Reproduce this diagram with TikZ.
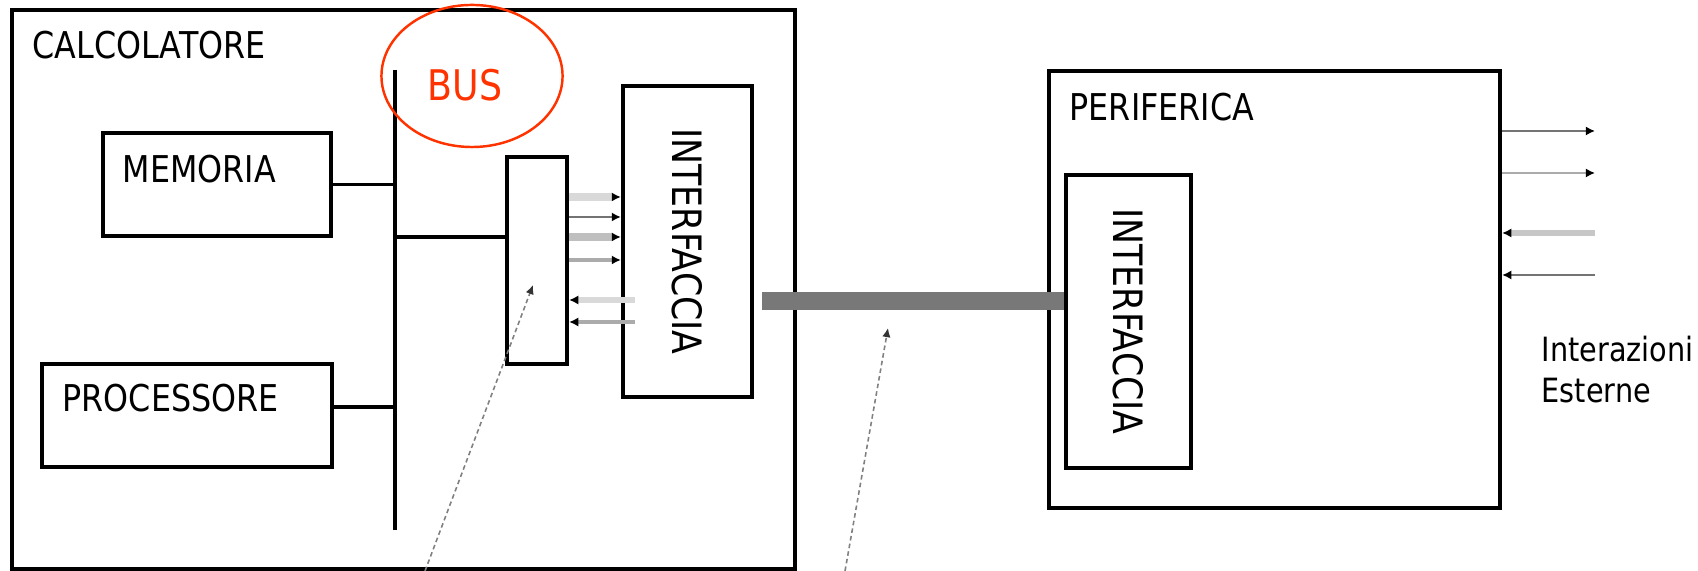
\documentclass[tikz,border=0pt]{standalone}
\usepackage{fontspec}
\setmainfont{DejaVu Sans}[FakeStretch=0.86]
\usetikzlibrary{arrows.meta,fit,shapes.geometric}
\tikzset{
	box/.style={draw, line width=1.2pt, inner sep=0pt},
	lbl/.style={inner sep=0pt, font=\fontsize{10.5}{12}\selectfont},
	vlbl/.style={inner sep=0pt, rotate=-90, font=\fontsize{11.5}{13}\selectfont},
	wire/.style={line width=1.1pt},
	sig/.style={line width=#1, -{Latex[length=2.6pt,width=2.6pt,black]}},
	sig/.default=0.8pt,
	pointer/.style={line width=0.45pt, color=black!50, dash pattern=on 1.3pt off 0.9pt, -{Latex[length=2.6pt,width=2.4pt,black!80]}}
}
\definecolor{busred}{HTML}{FF3300}
\begin{document}
\begin{tikzpicture}[x=0.01cm, y=-0.01cm]
		%%%%% START %%%%%
		\useasboundingbox (0, 0) rectangle (1698, 571);
		
		% calcolatore
		\node[box, fit={(12, 10) (795, 569)}] (calc) {};
		\node[lbl, anchor=base west] (calcT) at (32, 59) {CALCOLATORE};
		
		\node[box, fit={(103, 133) (331, 236)}] (mem) {};
		\node[lbl, anchor=base west] (memT) at (122, 183) {MEMORIA};
		
		\node[box, fit={(42, 364) (332, 467)}] (proc) {};
		\node[lbl, anchor=base west] (procT) at (62, 412) {PROCESSORE};
		
		\node[box, fit={(507, 157) (567, 364)}] (adapt) {};
		\node[box, fit={(623, 86) (752, 397)}] (intf) {};
		\node[vlbl] (intfT) at (intf.center) {INTERFACCIA};
		
		% bus
		\coordinate (busTop) at (395, 70);
		\coordinate (busBot) at (395, 530);
		\draw[wire] (busTop) -- (busBot);
		\draw[wire] (mem.east) -- (mem.east -| busTop);
		\draw[wire] (proc.east |- 0, 407) -- (busTop |- 0, 407);
		\draw[wire] (busTop |- 0, 237) -- (adapt.west |- 0, 237);
		
		% segnali verso l'interfaccia
		\draw[sig=2pt, color=black!15] (adapt.east |- 0, 197) -- (intf.west |- 0, 197);
		\draw[sig, color=black!55] (adapt.east |- 0, 217) -- (intf.west |- 0, 217);
		\draw[sig=2pt, color=black!25] (adapt.east |- 0, 237) -- (intf.west |- 0, 237);
		\draw[sig=1.2pt, color=black!33] (adapt.east |- 0, 260) -- (intf.west |- 0, 260);
		\draw[sig=1.8pt, color=black!15] ([xshift=0.14cm]intf.west |- 0, 300) -- (adapt.east |- 0, 300);
		\draw[sig=1.2pt, color=black!33] ([xshift=0.14cm]intf.west |- 0, 322) -- (adapt.east |- 0, 322);
		
		\node[draw=busred, line width=0.7pt, ellipse, minimum width=1.81cm, minimum height=1.42cm, inner sep=0pt] (bus) at (472, 76) {};
		\node[lbl, font=\fontsize{12}{14}\selectfont, color=busred, anchor=base west] (busT) at (427, 101) {BUS};
		
		% periferica
		\node[box, fit={(1049, 71) (1500, 508)}] (perif) {};
		\node[lbl, anchor=base west] (perifT) at (1069, 121) {PERIFERICA};
		\node[box, fit={(1066, 175) (1191, 468)}] (pintf) {};
		\node[vlbl] (pintfT) at (pintf.center) {INTERFACCIA};
		
		% cavo
		\draw[line width=5.1pt, color=black!53] (intf.east |- 0, 301) ++(8, 0) -- (pintf.west |- 0, 301);
		
		% interazioni esterne
		\coordinate (ext) at (1595, 0);
		\draw[sig, color=black!55] (perif.east |- 0, 131) -- (ext |- 0, 131);
		\draw[sig, color=black!33] (perif.east |- 0, 173) -- (ext |- 0, 173);
		\draw[sig=1.8pt, color=black!22] (ext |- 0, 233) -- (perif.east |- 0, 233);
		\draw[sig, color=black!55] (ext |- 0, 275) -- (perif.east |- 0, 275);
		\node[lbl, font=\fontsize{9.5}{11}\selectfont, anchor=base west] (extT) at (1541, 362) {Interazioni};
		\node[lbl, font=\fontsize{9.5}{11}\selectfont, anchor=base west] (extT2) at (1541, 403) {Esterne};
		
		% frecce tratteggiate
		\coordinate (p1) at (425, 571);
		\coordinate (p2) at (845, 571);
		\draw[pointer] (p1) -- (533, 285);
		\draw[pointer] (p2) -- (888, 328);
		%%%%% END %%%%%
	\end{tikzpicture}
\end{document}
